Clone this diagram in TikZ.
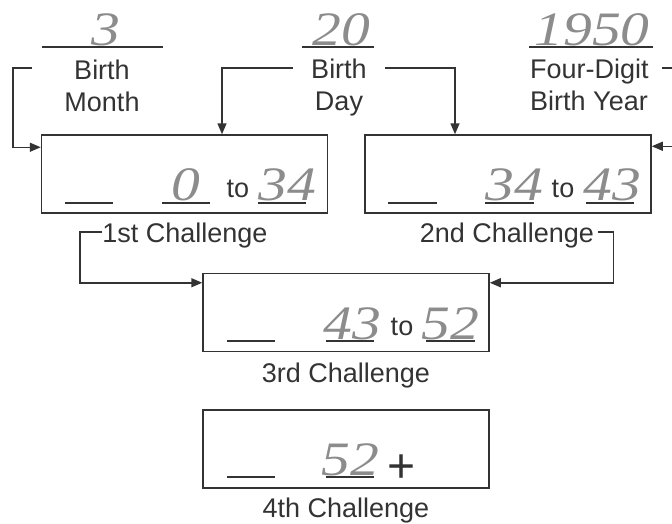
\documentclass[tikz,border=0pt]{standalone}
\usepackage{fontspec}
\setmainfont{Liberation Sans}
\newfontfamily\handfont[FakeStretch=1.2]{Liberation Serif}
\usepackage{xcolor}
\usepackage{tikz}
\usetikzlibrary{arrows.meta,positioning}
\definecolor{ink}{HTML}{333333}
\definecolor{pencil}{HTML}{8C8C8C}
\tikzset{
  frame/.style={draw=ink,line width=1.5pt,minimum width=286pt,minimum height=78pt,inner sep=0pt},
  blank/.style={draw=ink,line width=1.5pt},
  flow/.style={-{Triangle[length=11pt,width=9pt]},draw=ink,line width=1.5pt},
  hand/.style={font=\handfont\itshape\fontsize{48}{48}\selectfont,text=pencil,inner sep=0pt,anchor=base},
  lbl/.style={font=\fontsize{27}{32}\selectfont,text=ink,inner sep=0pt}
}
\begin{document}
\begin{tikzpicture}[x=1pt,y=-1pt]
  \useasboundingbox (0,0) rectangle (672,523);
  % birth data
  \draw[blank] (42,47)--(163,47); \draw[blank] (302,47)--(374,47); \draw[blank] (529,47)--(653,47);
  \node[hand] (mval) at (106,45) {3};
  \node[hand] (dval) at (341,45) {20};
  \node[hand] (yval) at (592,45) {1950};
  \node[lbl,align=center,anchor=north] (month) at (102,60) {Birth\\Month};
  \node[lbl,align=center,anchor=north] (day) at (339,59) {Birth\\Day};
  \node[lbl,align=left,anchor=north west] (year) at (530,59) {Four-Digit\\Birth Year};
  % challenge boxes
  \node[frame] (box1) at (184.5,174) {};
  \node[frame] (box2) at (508,174) {};
  \node[frame] (box3) at (346,312.5) {};
  \node[frame] (box4) at (346,449) {};
  \node[lbl,anchor=base] (ch1) at (185,242) {1st Challenge};
  \node[lbl,anchor=base] (ch2) at (507,242) {2nd Challenge};
  \node[lbl,anchor=base] (ch3) at (346,382) {3rd Challenge};
  \node[lbl,anchor=base] (ch4) at (346,517) {4th Challenge};
  % 1st
  \draw[blank] (65,203)--(113,203); \draw[blank] (162,203)--(210,203); \draw[blank] (258,203)--(306,203);
  \node[hand] (lo1) at (186,200) {0};
  \node[lbl,anchor=base] (to1) at (238,197) {to};
  \node[hand] (hi1) at (287,200) {34};
  % 2nd
  \draw[blank] (388,203)--(437,203); \draw[blank] (485,203)--(534,203); \draw[blank] (586,203)--(634,203);
  \node[hand] (lo2) at (514,200) {34};
  \node[lbl,anchor=base] (to2) at (563,197) {to};
  \node[hand] (hi2) at (612,200) {43};
  % 3rd
  \draw[blank] (227,341)--(275,341); \draw[blank] (326,341)--(374,341); \draw[blank] (426,341)--(475,341);
  \node[hand] (lo3) at (352,339) {43};
  \node[lbl,anchor=base] (to3) at (402,335) {to};
  \node[hand] (hi3) at (450,339) {52};
  % 4th
  \draw[blank] (227,477)--(275,477); \draw[blank] (326,477)--(374,477);
  \node[hand] (lo4) at (350,475) {52};
  \node[font=\fontsize{48}{48}\selectfont,text=ink,inner sep=0pt,anchor=base] (plus) at (402,482) {+};
  % connectors
  \coordinate (mstart) at (32,68);
  \coordinate (dleft) at (293,68);
  \coordinate (dright) at (385,68);
  \coordinate (ystart) at (662,68);
  \draw[flow] (mstart) -- (13,68) |- ([yshift=-13pt]box1.north west);
  \draw[flow] (dleft) -| ([xshift=37.5pt]box1.north);
  \draw[flow] (dright) -| ([xshift=-53pt]box2.north);
  \draw[flow] (ystart) -- (678,68) |- ([yshift=-12pt]box2.north east);
  \draw[flow] ([yshift=3pt]ch1.west) -- ++(-22,0) |- ([yshift=-10pt]box3.north west);
  \draw[flow] ([xshift=4pt,yshift=3pt]ch2.east) -- ++(15,0) |- ([yshift=-10pt]box3.north east);
\end{tikzpicture}
\end{document}
